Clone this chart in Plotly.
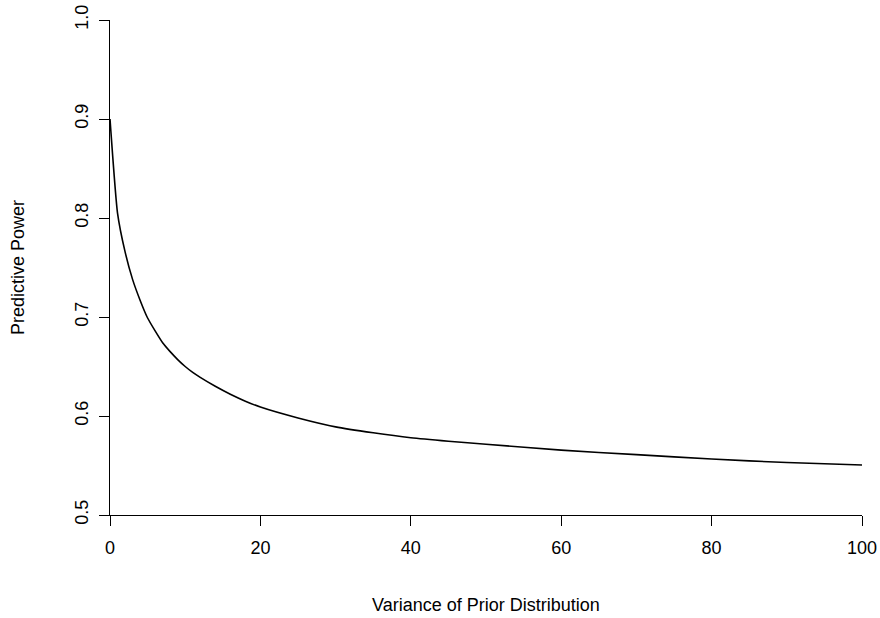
import plotly.graph_objects as go

# Data
prior_variance = [0, 1, 2, 3, 4, 5, 6, 7, 8, 9, 10, 11, 12, 14, 16, 18, 20, 25, 30, 35, 40, 45, 50,
                  60, 70, 80, 90, 100]
predictive_power = [0.900, 0.805, 0.766, 0.738, 0.717, 0.699, 0.686, 0.674, 0.665, 0.657, 0.650,
                    0.644, 0.639, 0.630, 0.622, 0.615, 0.609, 0.598, 0.589, 0.583, 0.578, 0.5745,
                    0.5715, 0.5655, 0.561, 0.5565, 0.553, 0.5505]
x_ticks = [0, 20, 40, 60, 80, 100]
y_ticks = [0.5, 0.6, 0.7, 0.8, 0.9, 1.0]

FONT = "Liberation Sans, Arial, Helvetica, sans-serif"
FS = 18

fig = go.Figure()
fig.add_trace(go.Scatter(
    x=prior_variance, y=predictive_power, mode="lines",
    line=dict(color="black", width=1.6, shape="spline", smoothing=0.5),
    showlegend=False, hoverinfo="x+y",
))

axis_common = dict(
    showgrid=False, zeroline=False, showline=True, linecolor="black", linewidth=1.2,
    ticks="outside", ticklen=10, tickwidth=1.2, tickcolor="black",
    tickfont=dict(family=FONT, size=FS, color="black"),
    automargin=False,
)

fig.update_layout(
    width=880, height=618,
    margin=dict(l=110, r=18, t=20, b=103),
    paper_bgcolor="white", plot_bgcolor="white",
    font=dict(family=FONT, size=FS, color="black"),
    xaxis=dict(range=[0, 100], tickvals=x_ticks, ticktext=[str(v) for v in x_ticks],
               ticklabelstandoff=6,
               title=dict(text="Variance of Prior Distribution", standoff=41,
                          font=dict(family=FONT, size=FS)),
               **axis_common),
    yaxis=dict(range=[0.5, 1.0], tickvals=y_ticks, ticktext=[f"{v:.1f}" for v in y_ticks],
               tickangle=-90, ticklabelstandoff=4,
               title=dict(text="Predictive Power", standoff=42,
                          font=dict(family=FONT, size=FS)),
               **axis_common),
)

fig.write_html("out.html")
